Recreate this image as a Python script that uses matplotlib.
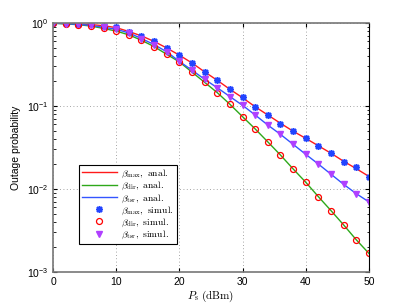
import numpy as np
import matplotlib
matplotlib.use('Agg')
import matplotlib.pyplot as plt

# transmit power (dBm)
ps = np.arange(0, 51, 2)

# analytical curves
max_anal = [0.995, 0.99, 0.978, 0.958, 0.928, 0.88, 0.79, 0.70, 0.60, 0.50,
            0.41, 0.33, 0.258, 0.204, 0.159, 0.126, 0.098, 0.078, 0.062, 0.0498,
            0.0408, 0.0332, 0.0270, 0.0216, 0.0176, 0.0142]
dir_anal = [0.995, 0.975, 0.955, 0.92, 0.86, 0.80, 0.72, 0.62, 0.52, 0.42,
            0.34, 0.256, 0.193, 0.145, 0.105, 0.0745, 0.053, 0.037, 0.0257, 0.0175,
            0.0121, 0.0081, 0.0055, 0.0037, 0.00245, 0.00168]
tsr_anal = [0.995, 0.982, 0.965, 0.935, 0.89, 0.84, 0.76, 0.65, 0.55, 0.45,
            0.345, 0.27, 0.21, 0.166, 0.13, 0.102, 0.078, 0.059, 0.0456, 0.0346,
            0.0262, 0.0200, 0.0151, 0.0114, 0.0088, 0.0070]

# simulated points
max_sim = [0.995, 0.99, 0.978, 0.96, 0.93, 0.887, 0.785, 0.70, 0.60, 0.50,
           0.41, 0.33, 0.257, 0.204, 0.159, 0.127, 0.097, 0.078, 0.061, 0.0496,
           0.0415, 0.033, 0.0274, 0.021, 0.0182, 0.0141]
dir_sim = dir_anal
tsr_sim = tsr_anal

plt.rcParams['mathtext.fontset'] = 'cm'
plt.rcParams['font.family'] = ['Liberation Sans', 'DejaVu Sans']

fig = plt.figure(figsize=(4.08, 3.07), dpi=100)
ax = fig.add_axes([0.130, 0.114, 0.774, 0.811])

ax.semilogy(ps, max_anal, '-', color='#ff1a1a', lw=1.0, label=r'$\beta_{\rm max},\ \mathrm{anal.}$')
ax.semilogy(ps, dir_anal, '-', color='#2ea81a', lw=1.0, label=r'$\beta_{\rm dir},\ \mathrm{anal.}$')
ax.semilogy(ps, tsr_anal, '-', color='#3355ff', lw=1.0, label=r'$\beta_{\rm tsr},\ \mathrm{anal.}$')
ax.semilogy(ps, max_sim, ls='none', marker=(8, 2, 0), ms=5, mew=1.1,
            color='#2244ff', label=r'$\beta_{\rm max},\ \mathrm{simul.}$')
ax.semilogy(ps, dir_sim, ls='none', marker='o', ms=4.3, mew=0.9, mfc='none',
            mec='#ff0000', label=r'$\beta_{\rm dir},\ \mathrm{simul.}$')
ax.semilogy(ps, tsr_sim, ls='none', marker='v', ms=4.8, color='#b040ff',
            label=r'$\beta_{\rm tsr},\ \mathrm{simul.}$')

ax.set_xlim(0, 50)
ax.set_ylim(1e-3, 1)
ax.set_xticks([0, 10, 20, 30, 40, 50])
ax.grid(True, which='major', ls=(0, (1, 3)), color='#888888', lw=0.6)
ax.tick_params(which='both', direction='in', top=True, right=True, labelsize=7.5)
ax.tick_params(which='major', length=3)
ax.tick_params(which='minor', length=1.8)
for s in ['left', 'bottom', 'top']:
    ax.spines[s].set_color('#777777')
    ax.spines[s].set_linewidth(1.2)
ax.spines['right'].set_color('black')

ax.set_xlabel(r'$P_{\rm s}\ \mathrm{(dBm)}$', fontsize=8, labelpad=1)
ax.set_ylabel('Outage probability', fontsize=7.5)

leg = ax.legend(loc='lower left', bbox_to_anchor=(0.072, 0.1), fontsize=7,
                fancybox=False, edgecolor='black', framealpha=1, handlelength=3.6,
                borderpad=0.3, labelspacing=0.0, handletextpad=0.5, borderaxespad=0.3)
leg.get_frame().set_linewidth(0.8)

fig.savefig('out.png', dpi=100)
